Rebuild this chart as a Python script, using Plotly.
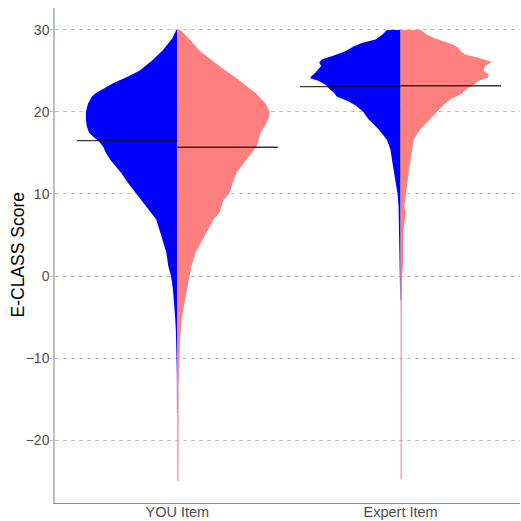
import plotly.graph_objects as go

# Category positions on the x axis
categories = ["YOU Item", "Expert Item"]

# Half-violin profiles: score levels and relative density (1.0 = full half width)
you_left_y = [30, 29, 27.6, 26.4, 25.1, 24.4, 23.5, 22.3, 21.9, 21, 20, 19, 18.2, 17.5,
              17.0, 16.4, 15.8, 15, 14.2, 12.6, 11.5, 10.1, 9.3, 8.1, 6.9, 5.3, 4.1,
              2.9, 1.2, 0, -1.5, -2.9, -5, -6.9, -9.8, -12.2, -16.7]
you_left_d = [0.01, 0.05, 0.14, 0.24, 0.37, 0.48, 0.64, 0.81, 0.85, 0.89, 0.91, 0.91, 0.90, 0.88,
              0.84, 0.78, 0.74, 0.71, 0.67, 0.56, 0.50, 0.41, 0.36, 0.28, 0.21, 0.17, 0.14,
              0.11, 0.09, 0.063, 0.045, 0.033, 0.022, 0.014, 0.008, 0.005, 0.004]

you_right_y = [30, 28.8, 27.5, 26.4, 25.3, 24.4, 23.3, 22.3, 21, 20, 19.3, 18.7, 17.5, 16.5,
               15.8, 14.2, 12.6, 11.3, 10.1, 9.3, 7.7, 6.9, 5.3, 4.1, 2.8, 1.2, 0, -2.9,
               -5.3, -7.7, -10.6, -13.4, -25]
you_right_d = [0.03, 0.127, 0.22, 0.33, 0.45, 0.56, 0.68, 0.78, 0.88, 0.92, 0.91, 0.89, 0.83, 0.81,
               0.79, 0.69, 0.59, 0.55, 0.52, 0.46, 0.42, 0.36, 0.29, 0.23, 0.18, 0.14, 0.12, 0.077,
               0.043, 0.027, 0.018, 0.013, 0.011]

expert_left_y = [30, 29.45, 28.84, 28.4, 28.0, 27.4, 26.8, 26.4, 26.0, 25.6, 25.2, 24.8, 24.4,
                 24.1, 23.8, 23.35, 22.7, 22.3, 21.9, 21.3, 20.7, 20.0, 19.1, 17.9, 16.6, 15.4,
                 14.2, 12.6, 10.95, 10.0, 8.5, 5.3, 2.0, 0, -0.5, -3.0]
expert_left_d = [0.136, 0.18, 0.25, 0.386, 0.47, 0.55, 0.686, 0.786, 0.81, 0.79, 0.82, 0.846, 0.886,
                 0.90, 0.82, 0.75, 0.70, 0.66, 0.636, 0.52, 0.436, 0.37, 0.32, 0.22, 0.136, 0.10,
                 0.086, 0.063, 0.043, 0.03, 0.02, 0.018, 0.014, 0.012, 0.007, 0.004]

expert_right_y = [30, 29.45, 29.0, 28.6, 28.2, 27.8, 27.4, 27.0, 26.6, 26.1, 25.6, 25.0, 24.6,
                  24.2, 23.8, 23.4, 22.8, 22.2, 21.6, 21.0, 20.0, 19.1, 17.9, 16.6, 15.4, 14.2,
                  12.6, 10.95, 10.0, 8.5, 7.7, 5.3, 1.2, 0, -5, -24.8]
expert_right_d = [0.204, 0.26, 0.34, 0.44, 0.526, 0.576, 0.60, 0.64, 0.776, 0.91, 0.84, 0.826, 0.876,
                  0.87, 0.776, 0.74, 0.656, 0.606, 0.506, 0.44, 0.36, 0.297, 0.197, 0.13, 0.114, 0.097,
                  0.08, 0.064, 0.054, 0.037, 0.05, 0.027, 0.023, 0.015, 0.011, 0.01]

# Group means drawn as horizontal segments over each half
you_means = [16.5, 15.7]
expert_means = [23.1, 23.2]

LEFT_COLOR = "#0000FF"
RIGHT_COLOR = "#FF7F7F"
HALF_WIDTH = 0.45  # x-axis units for density 1.0

fig = go.Figure()


def half_violin(center, ys, dens, side, color):
    sign = -1 if side == "left" else 1
    xs = [center + sign * d * HALF_WIDTH for d in dens]
    fig.add_trace(go.Scatter(
        x=xs + [center, center], y=ys + [ys[-1], ys[0]],
        mode="lines", fill="toself", fillcolor=color,
        line=dict(width=0, color=color), hoverinfo="skip", showlegend=False,
    ))


def mean_segment(center, value, side):
    x0, x1 = (center - HALF_WIDTH, center) if side == "left" else (center, center + HALF_WIDTH)
    fig.add_trace(go.Scatter(
        x=[x0, x1], y=[value, value], mode="lines",
        line=dict(color="rgba(20,20,20,0.85)", width=1.3),
        hoverinfo="skip", showlegend=False,
    ))


positions = {cat: i + 1 for i, cat in enumerate(categories)}

half_violin(positions["YOU Item"], you_left_y, you_left_d, "left", LEFT_COLOR)
half_violin(positions["YOU Item"], you_right_y, you_right_d, "right", RIGHT_COLOR)
half_violin(positions["Expert Item"], expert_left_y, expert_left_d, "left", LEFT_COLOR)
half_violin(positions["Expert Item"], expert_right_y, expert_right_d, "right", RIGHT_COLOR)

mean_segment(positions["YOU Item"], you_means[0], "left")
mean_segment(positions["YOU Item"], you_means[1], "right")
mean_segment(positions["Expert Item"], expert_means[0], "left")
mean_segment(positions["Expert Item"], expert_means[1], "right")

fig.update_layout(
    width=521, height=521,
    margin=dict(l=55, r=1, t=8, b=18),
    paper_bgcolor="white", plot_bgcolor="white",
    font=dict(family="Liberation Sans, Arial, sans-serif", size=14, color="#4d4d4d"),
    xaxis=dict(
        range=[0.452, 2.535], automargin=False,
        tickvals=[positions[c] for c in categories], ticktext=categories,
        showgrid=False, zeroline=False,
        showline=True, linecolor="#8c8c8c", linewidth=1.2,
        ticks="", tickfont=dict(size=14.5, color="#4d4d4d"),
        ticklabelstandoff=-5,
    ),
    yaxis=dict(
        range=[-27.68, 32.68], automargin=False,
        tickvals=[-20, -10, 0, 10, 20, 30],
        showgrid=True, gridcolor="#c0c0c0", gridwidth=1, griddash="4px,4px",
        zeroline=False,
        showline=True, linecolor="#bdbdbd", linewidth=1.5,
        ticks="outside", ticklen=3, tickcolor="#bdbdbd", tickwidth=1,
        tickfont=dict(size=14, color="#4d4d4d"),
        ticklabelstandoff=-2,
    ),
    annotations=[dict(
        text="E-CLASS Score", xref="paper", yref="paper",
        x=-0.0817, y=0.5, xanchor="center", yanchor="middle",
        textangle=-90, showarrow=False,
        font=dict(size=17.5, color="#000000"),
    )],
)

fig.write_html("out.html")
